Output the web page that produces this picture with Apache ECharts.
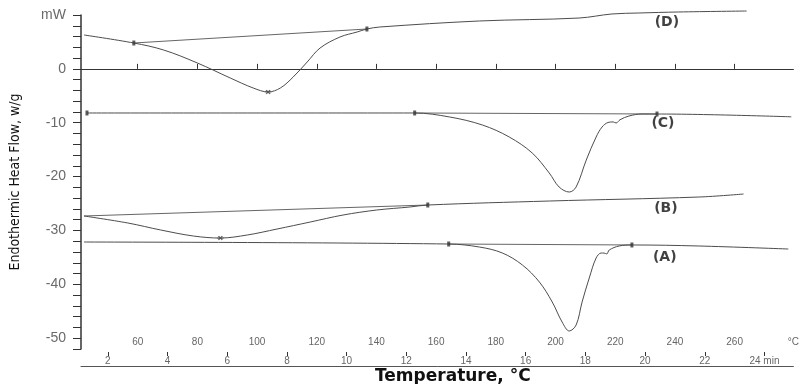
<!DOCTYPE html>
<html>
<head>
<meta charset="utf-8">
<script src="https://cdn.jsdelivr.net/npm/echarts@6/dist/echarts.min.js"></script>
<style>html,body{margin:0;padding:0;background:#fff}#c{width:802px;height:384px}</style>
</head>
<body>
<div id="c"></div>
<script>
// ---- data (temperature in °C, heat flow in mW / w/g) ----
const tempTicks = [60, 80, 100, 120, 140, 160, 180, 200, 220, 240, 260];
const timeTicks = [2, 4, 6, 8, 10, 12, 14, 16, 18, 20, 22, 24];
const tempMin = 41, tempMax = 279.7;
const flowMin = -52, flowMax = 10;

const dTemp = [42.0, 58.7, 68.7, 80.0, 91.0, 98.7, 103.7, 107.8, 112.1, 116.8, 121.1, 127.8, 133.5, 136.8, 141.1, 174.5, 207.9, 218.9, 227.9, 241.3, 264.0];
const dFlow = [6.29, 4.80, 3.50, 1.09, -1.69, -3.55, -4.29, -3.55, -1.51, 1.28, 3.87, 5.92, 6.84, 7.40, 7.77, 8.89, 9.44, 10.19, 10.37, 10.56, 10.74];
const dBaseTemp = [58.7, 136.8];
const dBaseFlow = [4.80, 7.40];

const cTemp = [43.0, 152.8, 164.5, 175.5, 184.5, 192.2, 197.9, 201.2, 204.6, 206.9, 210.3, 213.6, 215.6, 217.6, 219.3, 220.3, 221.6, 224.6, 229.0, 234.0, 279.0];
const cFlow = [-8.19, -8.19, -8.93, -10.42, -12.65, -15.62, -19.33, -21.93, -22.86, -21.93, -16.92, -12.65, -10.79, -9.95, -9.85, -10.05, -9.45, -8.75, -8.38, -8.38, -8.90];
const cBaseTemp = [152.8, 234.0];
const cBaseFlow = [-8.19, -8.38];

const bTemp = [42.0, 56.7, 67.7, 78.7, 87.7, 96.7, 106.7, 117.8, 128.8, 140.1, 151.2, 157.2, 197.9, 248.0, 263.0];
const bFlow = [-27.31, -28.61, -29.91, -31.03, -31.40, -30.84, -29.73, -28.43, -27.13, -26.20, -25.64, -25.27, -24.53, -23.79, -23.23];
const bBaseTemp = [42.0, 157.2];
const bBaseFlow = [-27.31, -25.27];

const aTemp = [42.0, 164.2, 174.5, 182.2, 188.9, 194.6, 198.9, 202.2, 204.6, 206.9, 208.9, 211.3, 213.6, 215.3, 216.3, 217.2, 218.0, 221.3, 225.6, 248.0, 278.0];
const aFlow = [-32.14, -32.51, -33.07, -34.18, -36.41, -39.57, -43.28, -46.99, -48.66, -47.55, -43.28, -38.82, -35.11, -34.18, -34.20, -34.35, -33.62, -32.88, -32.69, -32.88, -33.44];
const aBaseTemp = [164.2, 225.6];
const aBaseFlow = [-32.51, -32.69];

// integration limit markers
const limitTemp = [58.7, 136.8, 43.0, 152.8, 234.0, 157.2, 164.2, 225.6];
const limitFlow = [4.80, 7.40, -8.19, -8.19, -8.38, -25.27, -32.51, -32.69];

const peakTemp = [103.7, 87.7];
const peakFlow = [-4.29, -31.40];

const curveNames = ['(D)', '(C)', '(B)', '(A)'];
const curveNameTemp = [237.3, 236.0, 237.0, 236.6];
const curveNameFlow = [8.70, -10.1, -25.83, -34.92];

// ---- build ----
const zip = (xs, ys) => xs.map((x, i) => [x, ys[i]]);
const lineColor = '#4d4d4d';

function curve(name, xs, ys) {
  return {
    type: 'line', name, data: zip(xs, ys), smooth: 0.35, showSymbol: false,
    clip: false, lineStyle: { color: lineColor, width: 1 }, z: 3, silent: true
  };
}
function base(name, xs, ys) {
  return {
    type: 'line', name, data: zip(xs, ys), showSymbol: false,
    clip: false, lineStyle: { color: '#666', width: 1 }, z: 2, silent: true
  };
}

const chart = echarts.init(document.getElementById('c'), null, { renderer: 'canvas' });
chart.setOption({
  animation: false,
  backgroundColor: '#fff',
  title: {
    text: 'Temperature, °C', left: 370, top: 363,
    textStyle: { fontFamily: 'DejaVu Sans', fontWeight: 'bold', fontSize: 17, color: '#111' }
  },
  grid: { left: 80, right: 6.5, top: 15, bottom: 35 },
  xAxis: [
    {
      type: 'value', min: tempMin, max: tempMax, position: 'bottom', offset: 3,
      axisLine: { show: true, lineStyle: { color: '#333', width: 1 } },
      axisTick: { show: true, inside: true, length: 5, customValues: tempTicks, lineStyle: { color: '#333' } },
      axisLabel: {
        show: true, inside: true, margin: 5, customValues: tempTicks.concat([tempMax]),
        formatter: v => (v > 270 ? '°C' : String(v)),
        color: '#666', fontSize: 10, fontFamily: 'Liberation Sans'
      },
      splitLine: { show: false }
    },
    {
      type: 'value', min: (tempMin - 30) / 10, max: (tempMax - 30) / 10, position: 'bottom', offset: 3,
      axisLine: { show: false },
      axisTick: { show: true, inside: false, length: 4, customValues: timeTicks, lineStyle: { color: '#333' } },
      axisLabel: {
        show: true, margin: 4, customValues: timeTicks,
        formatter: v => (v === 24 ? '24 min' : String(v)),
        color: '#666', fontSize: 10, fontFamily: 'Liberation Sans'
      },
      splitLine: { show: false }
    },
    {
      type: 'value', min: tempMin, max: tempMax, position: 'bottom', offset: 17,
      axisLine: { show: true, lineStyle: { color: '#555', width: 1 } },
      axisTick: { show: false }, axisLabel: { show: false }, splitLine: { show: false }
    }
  ],
  yAxis: {
    type: 'value', min: flowMin, max: flowMax, interval: 2,
    name: 'Endothermic Heat Flow, w/g', nameLocation: 'middle', nameGap: 59, nameRotate: 90,
    nameTextStyle: { fontFamily: "'Liberation Sans Narrow', 'DejaVu Sans Condensed', 'Liberation Sans', sans-serif", fontSize: 14, color: '#111' },
    axisLine: { show: true, lineStyle: { color: '#333', width: 1.5 } },
    axisTick: { show: true, length: 8, lineStyle: { color: '#333' } },
    axisLabel: {
      margin: 15, color: '#6a6a6a', fontSize: 14, fontFamily: 'Liberation Sans',
      formatter: v => (v === 10 ? 'mW' : (v % 10 === 0 ? String(v) : ''))
    },
    splitLine: { show: false }
  },
  series: [
    curve('D', dTemp, dFlow), base('D base', dBaseTemp, dBaseFlow),
    curve('C', cTemp, cFlow), base('C base', cBaseTemp, cBaseFlow),
    curve('B', bTemp, bFlow), base('B base', bBaseTemp, bBaseFlow),
    curve('A', aTemp, aFlow), base('A base', aBaseTemp, aBaseFlow),
    {
      type: 'scatter', data: zip(limitTemp, limitFlow), symbol: 'rect',
      symbolSize: [3, 5], itemStyle: { color: '#333' }, z: 5, silent: true
    },
    {
      type: 'scatter', data: zip(peakTemp, peakFlow), symbol: 'path://M0,0 L10,10 M10,0 L0,10 M-4,5 L14,5',
      symbolSize: [7, 4], itemStyle: { color: 'none', borderColor: '#444', borderWidth: 1 }, z: 4, silent: true
    },
    {
      type: 'scatter', data: curveNames.map((n, i) => ({ value: [curveNameTemp[i], curveNameFlow[i]], name: n })),
      symbolSize: 0, silent: true,
      label: {
        show: true, position: 'inside', formatter: p => p.name,
        fontFamily: 'DejaVu Sans', fontWeight: 'bold', fontSize: 14, color: '#111'
      }
    }
  ]
});
</script>
</body>
</html>
